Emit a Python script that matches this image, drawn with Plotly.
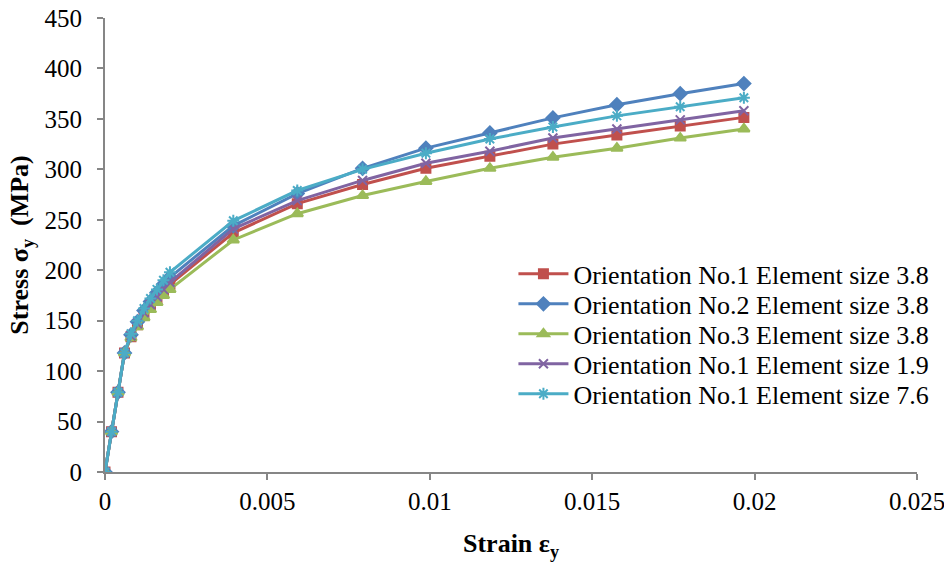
import plotly.graph_objects as go

# Strain values (shared by all runs)
strain = [0, 0.0002, 0.0004, 0.0006, 0.0008, 0.001, 0.0012, 0.0014, 0.0016,
          0.0018, 0.002, 0.00395, 0.00592, 0.00793, 0.00988, 0.01185,
          0.01379, 0.01576, 0.01771, 0.01967]

# Stress values in MPa for each run
stress_o1_e38 = [0, 40, 79, 118, 134, 146, 156, 164, 172, 179, 186,
                 237, 266, 285, 301, 313, 325, 334, 343, 351.5]
stress_o2_e38 = [0, 40, 79, 118, 136, 149, 160, 169, 178, 186, 193,
                 244, 276, 301, 321, 336, 351, 364, 375, 385]
stress_o3_e38 = [0, 40, 79, 118, 133, 144, 153, 161, 168, 175, 181,
                 230, 256, 274, 288, 301, 312, 321, 331, 340]
stress_o1_e19 = [0, 40, 79, 118, 135, 147, 158, 166, 174, 181, 188,
                 241, 269, 289, 306, 318, 331, 340, 349, 358]
stress_o1_e76 = [0, 40, 79, 118, 137, 150, 162, 172, 181, 190, 198,
                 249, 279, 300, 316, 330, 342, 353, 362, 371]

series = [
    ("Orientation No.1 Element size 3.8", stress_o1_e38, "#C0504D", "square", 9),
    ("Orientation No.2 Element size 3.8", stress_o2_e38, "#4F81BD", "diamond", 10),
    ("Orientation No.3 Element size 3.8", stress_o3_e38, "#9BBB59", "triangle-up", 10),
    ("Orientation No.1 Element size 1.9", stress_o1_e19, "#8064A2", "x-thin-open", 9),
    ("Orientation No.1 Element size 7.6", stress_o1_e76, "#4BACC6", "asterisk-open", 10),
]

font_family = "Liberation Serif, Times New Roman, serif"
axis_color = "#868686"

fig = go.Figure()
legend_layouts = {}
for i, (name, ys, color, symbol, size) in enumerate(series):
    legend_id = "legend" if i == 0 else f"legend{i + 1}"
    fig.add_trace(go.Scatter(
        x=strain, y=ys, name=name, mode="lines+markers",
        line=dict(color=color, width=3),
        marker=dict(symbol=symbol, size=size, color=color,
                    line=dict(color=color, width=2)),
        legend=legend_id,
    ))
    # one legend box per entry so the rows can sit close together
    legend_layouts[legend_id] = dict(
        x=0.503, y=0.488 - i * 0.066, xanchor="left", yanchor="top",
        font=dict(family=font_family, size=26, color="black"),
        bgcolor="rgba(0,0,0,0)", itemwidth=50,
    )

fig.update_layout(
    width=944, height=565,
    margin=dict(l=105, r=27, t=18, b=93, autoexpand=False),
    paper_bgcolor="white", plot_bgcolor="white",
    font=dict(family=font_family, size=25, color="black"),
    showlegend=True,
    xaxis=dict(
        range=[0, 0.025], dtick=0.005, tick0=0, automargin=False,
        ticklabeloverflow="allow",
        showgrid=False, zeroline=False,
        showline=True, linecolor=axis_color, linewidth=2,
        ticks="outside", ticklen=6, tickcolor=axis_color, tickwidth=1.5,
        tickfont=dict(family=font_family, size=25),
        title=dict(text="<b>Strain ε<sub>y</sub></b>",
                   font=dict(family=font_family, size=26), standoff=20),
    ),
    yaxis=dict(
        range=[0, 450], dtick=50, tick0=0, automargin=False,
        ticklabeloverflow="allow",
        showgrid=False, zeroline=False,
        showline=True, linecolor=axis_color, linewidth=2,
        ticks="outside", ticklen=6, tickcolor=axis_color, tickwidth=1.5,
        tickfont=dict(family=font_family, size=25),
        ticklabelstandoff=10,
        title=dict(text="<b>Stress σ<sub>y</sub>  (MPa)</b>",
                   font=dict(family=font_family, size=26), standoff=8),
    ),
    **legend_layouts,
)

fig.write_html("out.html")
